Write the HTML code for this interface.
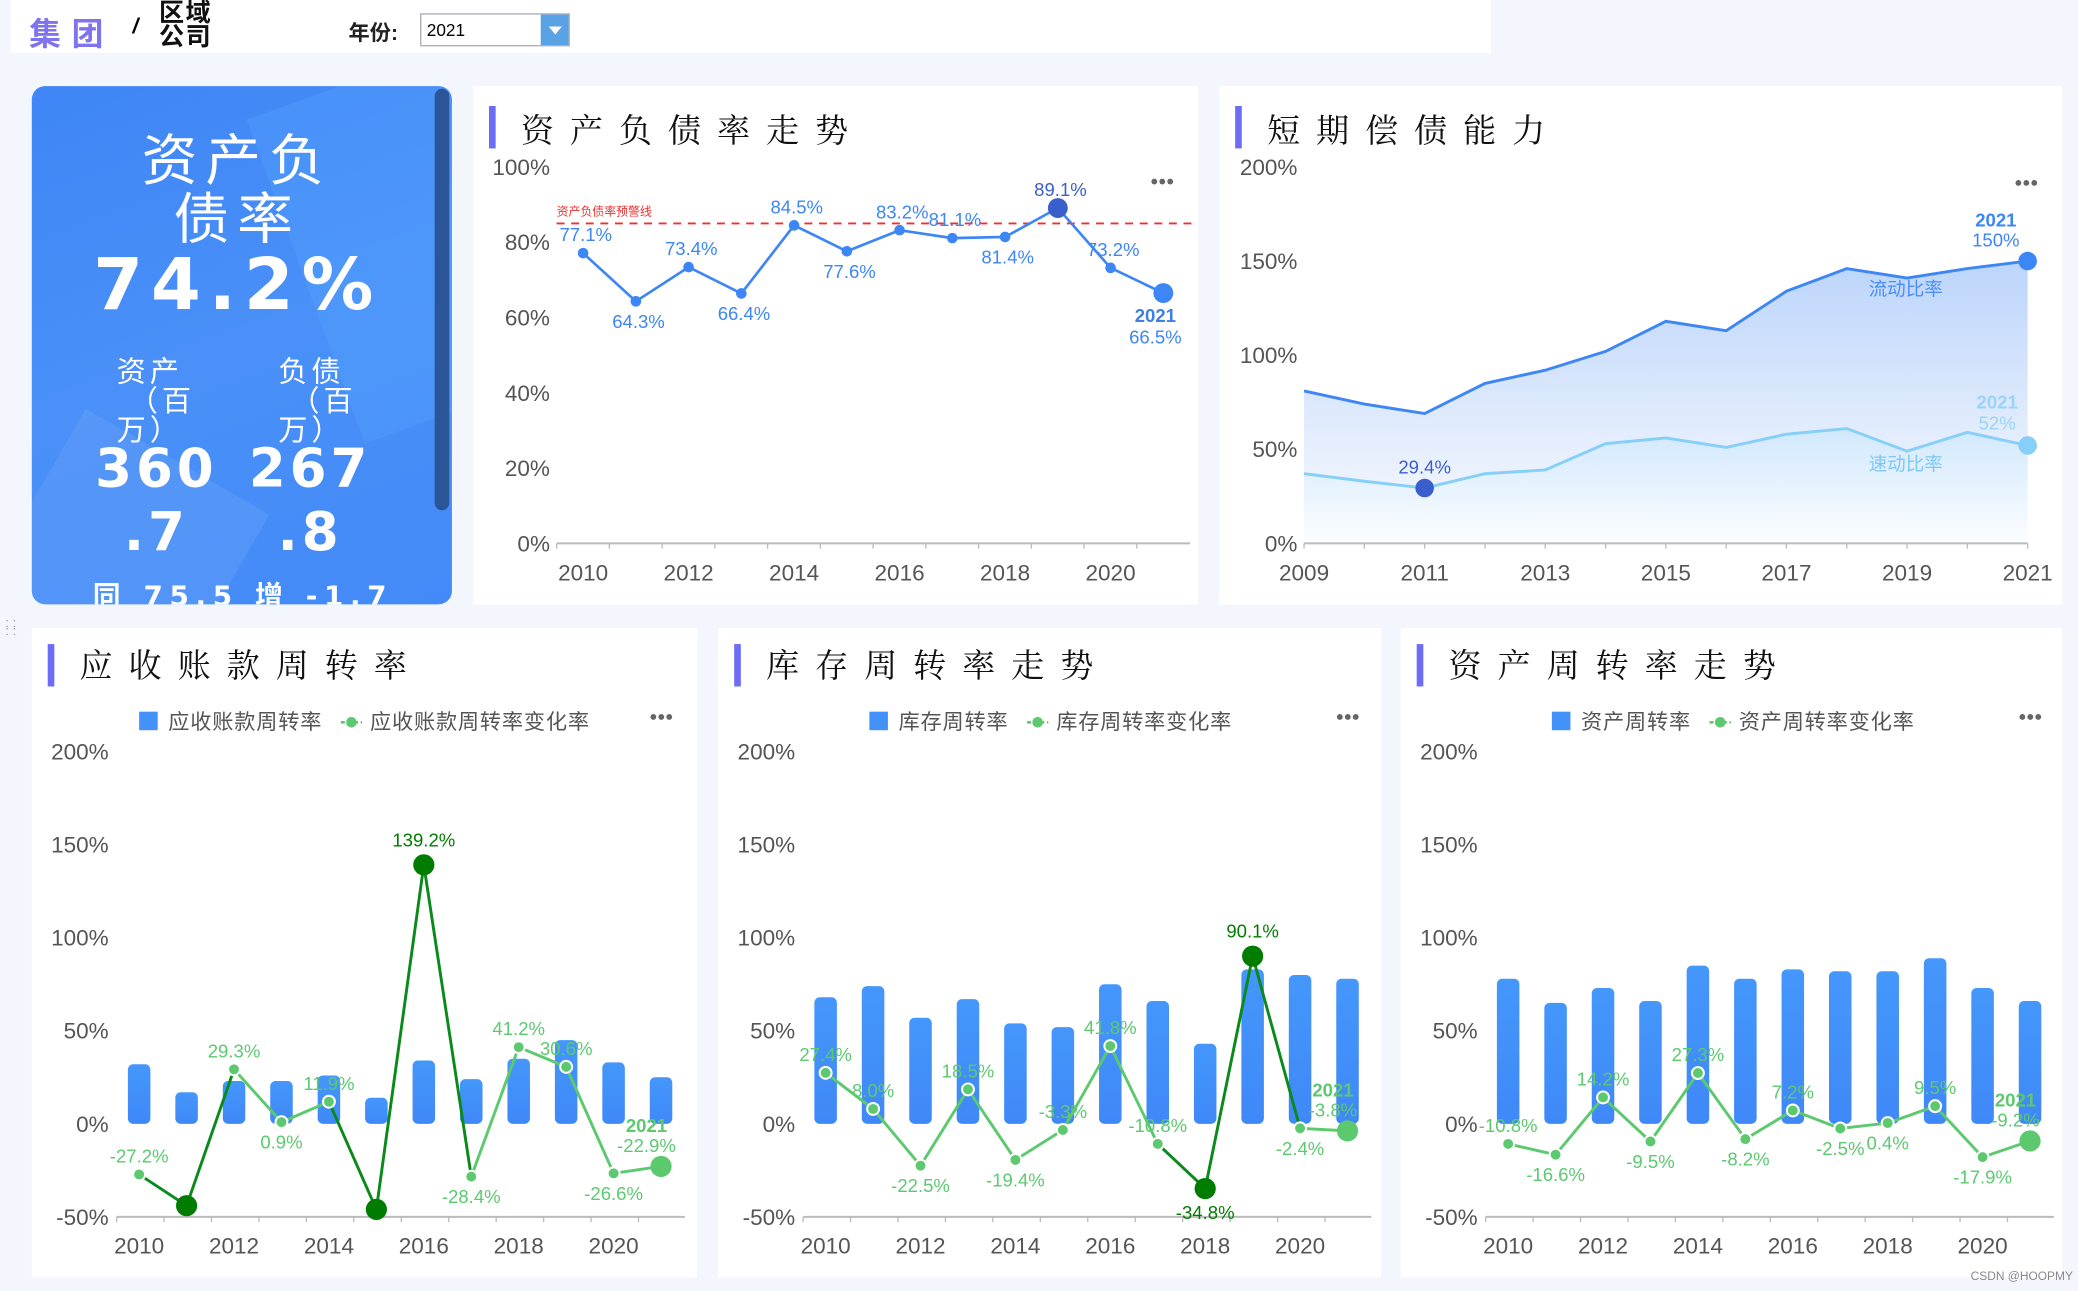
<!DOCTYPE html>
<html><head><meta charset="utf-8">
<style>
html,body{margin:0;padding:0;width:2078px;height:1291px;overflow:hidden;background:#f3f7fd;}
#wrap{position:absolute;left:0;top:0;width:1568px;height:974px;transform:scale(1.32526);transform-origin:0 0;font-family:"Liberation Sans","Noto Sans CJK SC",sans-serif;}
.abs{position:absolute;}
.panel{position:absolute;background:#fff;}
.title{position:absolute;font-family:"Liberation Serif","Noto Serif CJK SC",serif;font-size:25px;letter-spacing:12px;color:#111;white-space:nowrap;}
.tbar{position:absolute;width:5px;height:32px;background:#6c6cf6;}
svg text{font-family:"Liberation Sans","Noto Sans CJK SC",sans-serif;}
</style></head><body>
<div id="wrap">
 <div class="abs" style="left:8px;top:0;width:1117px;height:40px;background:#fff;"></div>
 <div class="abs" style="left:22px;top:6px;font-size:24px;font-weight:bold;color:#8073f0;letter-spacing:8px;">集团</div>
 <div class="abs" style="left:100px;top:12px;font-size:16px;font-weight:bold;font-style:italic;">/</div>
 <div class="abs" style="left:120px;top:2px;font-size:19px;font-weight:bold;line-height:18px;color:#111;letter-spacing:1px;">区域<br>公司</div>
 <div class="abs" style="left:263px;top:11px;font-size:16px;font-weight:bold;color:#222;">年份:</div>
 <div class="abs" style="left:317px;top:10px;width:111px;height:23px;border:1px solid #aab;background:#fff;font-size:13px;line-height:23px;">
  <span style="padding-left:4px;">2021</span>
  <div style="position:absolute;right:0;top:0;width:21px;height:23px;background:#5aa2e6;"><div style="position:absolute;left:6px;top:9px;border-left:5px solid transparent;border-right:5px solid transparent;border-top:6px solid #fff;"></div></div>
 </div>

 <div class="abs" style="left:24px;top:65px;width:317px;height:391px;border-radius:10px;background:linear-gradient(160deg,#3f86f6 0%,#4a90f8 50%,#438af8 100%);overflow:hidden;color:#fff;text-align:center;">
  <div style="position:absolute;left:200px;top:-20px;width:220px;height:260px;background:rgba(90,170,255,0.25);transform:rotate(-20deg);"></div>
  <div style="position:absolute;left:-20px;top:270px;width:160px;height:200px;background:rgba(255,255,255,0.07);transform:rotate(30deg);"></div>
  <div style="position:absolute;left:304px;top:2px;width:11px;height:318px;border-radius:6px;background:#2a5596;"></div>
  <div style="position:absolute;left:0;top:35px;width:310px;font-size:42px;line-height:44px;letter-spacing:6px;">资产负<br>债率</div>
  <div style="position:absolute;left:0;top:118px;width:310px;font-size:54px;font-weight:bold;letter-spacing:6px;font-family:'DejaVu Sans',sans-serif;">74.2%</div>
  <div style="position:absolute;left:64px;top:205px;width:90px;font-size:22px;line-height:22px;text-align:left;letter-spacing:3px;">资产<br>&nbsp;（百<br>万）</div>
  <div style="position:absolute;left:186px;top:205px;width:90px;font-size:22px;line-height:22px;text-align:left;letter-spacing:3px;">负债<br>&nbsp;（百<br>万）</div>
  <div style="position:absolute;left:34px;top:265px;width:120px;font-size:40px;font-weight:bold;line-height:48px;letter-spacing:3px;font-family:'DejaVu Sans',sans-serif;">360<br>.7</div>
  <div style="position:absolute;left:148px;top:265px;width:124px;font-size:40px;font-weight:bold;line-height:48px;letter-spacing:3px;font-family:'DejaVu Sans',sans-serif;">267<br>.8</div>
  <div style="position:absolute;left:46px;top:369px;width:270px;font-size:21px;font-weight:bold;text-align:left;white-space:nowrap;letter-spacing:5px;font-family:'DejaVu Sans','Noto Sans CJK SC',sans-serif;">同 75.5 增 -1.7</div>
 </div>

 <div class="panel" style="left:357px;top:65px;width:547px;height:391px;"></div>
 <div class="tbar" style="left:369px;top:80px;"></div>
 <div class="title" style="left:393px;top:79px;">资产负债率走势</div>

 <div class="panel" style="left:920px;top:65px;width:636px;height:391px;"></div>
 <div class="tbar" style="left:932px;top:80px;"></div>
 <div class="title" style="left:956px;top:79px;">短期偿债能力</div>

 <div class="panel" style="left:24px;top:474px;width:502px;height:490px;"></div>
 <div class="tbar" style="left:36px;top:486px;"></div>
 <div class="title" style="left:60px;top:483px;">应收账款周转率</div>

 <div class="panel" style="left:542px;top:474px;width:500px;height:490px;"></div>
 <div class="tbar" style="left:554px;top:486px;"></div>
 <div class="title" style="left:578px;top:483px;">库存周转率走势</div>

 <div class="panel" style="left:1057px;top:474px;width:499px;height:490px;"></div>
 <div class="tbar" style="left:1069px;top:486px;"></div>
 <div class="title" style="left:1093px;top:483px;">资产周转率走势</div>

 <div class="abs" style="left:1487px;top:958px;font-size:9px;color:#888;">CSDN @HOOPMY</div>
 <div class="abs" style="left:4px;top:468px;font-size:10px;color:#99a;line-height:6px;">: :<br>: :</div>

 <svg id="chart" width="1568" height="974" style="position:absolute;left:0;top:0;"></svg>
</div>
<script>
// ---- data ----
const debtYears = [2010,2011,2012,2013,2014,2015,2016,2017,2018,2019,2020,2021];
const debtValues = [77.1,64.3,73.4,66.4,84.5,77.6,83.2,81.1,81.4,89.1,73.2,66.5];
const debtLabelSide = [1,-1,1,-1,1,-1,1,1,-1,1,1,-1];
const debtTicks = [0,20,40,60,80,100];
const debtWarning = 85;

const solvYears = [2009,2010,2011,2012,2013,2014,2015,2016,2017,2018,2019,2020,2021];
const currentRatio = [81,74,69,85,92,102,118,113,134,146,141,146,150];
const quickRatio = [37,33,29.4,37,39,53,56,51,58,61,49,59,52];
const solvTicks = [0,50,100,150,200];

const turnYears = [2010,2011,2012,2013,2014,2015,2016,2017,2018,2019,2020,2021];
const turnTicks = [-50,0,50,100,150,200];
const recvBars = [32,17,23,23,26,14,34,24,35,45,33,25];
const recvRates = [-27.2,-44,29.3,0.9,11.9,-46,139.2,-28.4,41.2,30.6,-26.6,-22.9];
const recvSide = [1,0,1,-1,1,0,1,-1,1,1,-1,1];
const recvDark = [1,5,6];
const invBars = [68,74,57,67,54,52,75,66,43,83,80,78];
const invRates = [27.4,8.0,-22.5,18.5,-19.4,-3.3,41.8,-10.8,-34.8,90.1,-2.4,-3.8];
const invSide = [1,1,-1,1,-1,1,1,1,-1,1,-1,1];
const invDark = [8,9];
const astBars = [78,65,73,66,85,78,83,82,82,89,73,66];
const astRates = [-10.8,-16.6,14.2,-9.5,27.3,-8.2,7.2,-2.5,0.4,9.5,-17.9,-9.2];
const astSide = [1,-1,1,-1,1,-1,1,-1,-1,1,-1,1];
const astDark = [];

// ---- helpers ----
const svg = document.getElementById('chart');
const NS = 'http://www.w3.org/2000/svg';
function mk(tag, attrs, parent){
  const e = document.createElementNS(NS, tag);
  for (const k in attrs) e.setAttribute(k, attrs[k]);
  (parent||svg).appendChild(e);
  return e;
}
function txt(x,y,s,attrs,parent){
  const t = mk('text', Object.assign({x:x,y:y},attrs), parent);
  t.textContent = s;
  return t;
}
const defs = mk('defs',{});
defs.innerHTML = '<linearGradient id="areaG" x1="0" y1="0" x2="0" y2="1"><stop offset="0" stop-color="#bcd5fb"/><stop offset="0.7" stop-color="#e8f0fd"/><stop offset="1" stop-color="#f7faff"/></linearGradient>'+
 '<linearGradient id="areaQ" x1="0" y1="0" x2="0" y2="1"><stop offset="0" stop-color="#c9e6fd" stop-opacity="0.7"/><stop offset="1" stop-color="#ffffff" stop-opacity="0.6"/></linearGradient>'+
 '<linearGradient id="barG" x1="0" y1="0" x2="0" y2="1"><stop offset="0" stop-color="#4497fb"/><stop offset="1" stop-color="#3f88f8"/></linearGradient>';

function dots(x,y,name){
  const g = mk('g',{});
  
  
  for (let i=0;i<3;i++) mk('circle',{cx:x+i*6,cy:y,r:2.2,fill:'#666'},g);
}

// ---- chart 1: debt ratio ----
const x1 = i => 440 + i*39.8;
const y1 = v => 410 - v*2.84;
debtTicks.forEach(t=>{
  const l = txt(415, y1(t)+6, t+'%', {'text-anchor':'end','font-size':17,fill:'#555'});
  
  
});
mk('line',{x1:420,y1:410,x2:898,y2:410,stroke:'#bbb','stroke-width':1.5});
debtYears.forEach((yr,i)=>{
  mk('line',{x1:420+i*39.8,y1:410,x2:420+i*39.8,y2:414,stroke:'#bbb'});
  if (i%2===0){
    const l = txt(x1(i), 438, String(yr), {'text-anchor':'middle','font-size':17,fill:'#555'});
    
    
  }
});
const warn = mk('line',{x1:420,y1:y1(debtWarning),x2:900,y2:y1(debtWarning),stroke:'#f03030','stroke-width':1.5,'stroke-dasharray':'6,5'});


const wl = txt(420, y1(debtWarning)-6, '资产负债率预警线', {'font-size':9,fill:'#f03030'});


const dl = mk('polyline',{points:debtValues.map((v,i)=>x1(i)+','+y1(v)).join(' '),fill:'none',stroke:'#3d86f6','stroke-width':2});


const maxIdx = debtValues.indexOf(Math.max(...debtValues));
debtValues.forEach((v,i)=>{
  const last = i===debtValues.length-1;
  const big = last || i===maxIdx;
  const c = mk('circle',{cx:x1(i),cy:y1(v),r:big?7.5:4,fill:i===maxIdx?'#3a5fcd':'#3d86f6'});
  
  
  let ly;
  if (last){
    const a = txt(x1(i)-6, y1(v)+22, String(debtYears[i]), {'text-anchor':'middle','font-size':14,'font-weight':'bold',fill:'#3d7ee8'});
    
    
    ly = y1(v)+38;
    const b = txt(x1(i)-6, ly, v.toFixed(1)+'%', {'text-anchor':'middle','font-size':14,fill:'#3d86f6'});
    
    
    return;
  }
  ly = debtLabelSide[i]>0 ? y1(v)-9 : y1(v)+20;
  const b = txt(x1(i)+2, ly, v.toFixed(1)+'%', {'text-anchor':'middle','font-size':14,fill:i===maxIdx?'#3a5fcd':'#3d86f6'});
  
  
});
dots(871,137,'debt-more-button');

// ---- chart 2: solvency ----
const x2 = i => 984 + i*45.5;
const y2 = v => 410 - v*1.42;
solvTicks.forEach(t=>{
  const l = txt(979, y2(t)+6, t+'%', {'text-anchor':'end','font-size':17,fill:'#555'});
  
  
});
const n2 = currentRatio.length-1;
const ca = mk('path',{d:'M'+x2(0)+',410 '+currentRatio.map((v,i)=>'L'+x2(i)+','+y2(v)).join(' ')+' L'+x2(n2)+',410 Z',fill:'url(#areaG)'});


const qa = mk('path',{d:'M'+x2(0)+',410 '+quickRatio.map((v,i)=>'L'+x2(i)+','+y2(v)).join(' ')+' L'+x2(n2)+',410 Z',fill:'url(#areaQ)'});


mk('line',{x1:984,y1:410,x2:1530,y2:410,stroke:'#bbb','stroke-width':1.5});
solvYears.forEach((yr,i)=>{
  mk('line',{x1:x2(i),y1:410,x2:x2(i),y2:414,stroke:'#bbb'});
  if (i%2===0){
    const l = txt(x2(i), 438, String(yr), {'text-anchor':'middle','font-size':17,fill:'#555'});
    
    
  }
});
const cl = mk('polyline',{points:currentRatio.map((v,i)=>x2(i)+','+y2(v)).join(' '),fill:'none',stroke:'#3d86f6','stroke-width':2.2});


const ql = mk('polyline',{points:quickRatio.map((v,i)=>x2(i)+','+y2(v)).join(' '),fill:'none',stroke:'#85cff8','stroke-width':2.2});


const cEnd = mk('circle',{cx:x2(n2),cy:y2(currentRatio[n2]),r:7,fill:'#3d86f6'});


const qEnd = mk('circle',{cx:x2(n2),cy:y2(quickRatio[n2]),r:7,fill:'#85cff8'});


const qMin = quickRatio.indexOf(Math.min(...quickRatio));
const qm = mk('circle',{cx:x2(qMin),cy:y2(quickRatio[qMin]),r:7,fill:'#3a5fcd'});


let t;
t = txt(x2(qMin), y2(quickRatio[qMin])-11, quickRatio[qMin]+'%', {'text-anchor':'middle','font-size':14,fill:'#3a5fcd'});


t = txt(x2(n2)-24, y2(currentRatio[n2])-26, String(solvYears[n2]), {'text-anchor':'middle','font-size':14,'font-weight':'bold',fill:'#3d86f6'});


t = txt(x2(n2)-24, y2(currentRatio[n2])-11, currentRatio[n2]+'%', {'text-anchor':'middle','font-size':14,fill:'#3d86f6'});


t = txt(x2(n2)-23, y2(quickRatio[n2])-28, String(solvYears[n2]), {'text-anchor':'middle','font-size':14,'font-weight':'bold',fill:'#98d4fa'});


t = txt(x2(n2)-23, y2(quickRatio[n2])-12, quickRatio[n2]+'%', {'text-anchor':'middle','font-size':14,fill:'#98d4fa'});


t = txt(1438, 223, '流动比率', {'text-anchor':'middle','font-size':14,fill:'#4a8ef5'});


t = txt(1438, 355, '速动比率', {'text-anchor':'middle','font-size':14,fill:'#7cc8f6'});


dots(1523,138,'solvency-more-button');

// ---- bottom charts ----
const yB = v => 848 - v*1.404;
function turnover(x0, legX, bars, rates, side, dark, barName, rateName, key){
  const xB = i => x0 + i*35.8;
  const axL = x0-17, axR = x0 + 11*35.8 + 18;
  turnTicks.forEach(tk=>{
    const l = txt(x0-23, yB(tk)+6, tk+'%', {'text-anchor':'end','font-size':17,fill:'#555'});
    
    
  });
  mk('line',{x1:axL,y1:yB(-50),x2:axR,y2:yB(-50),stroke:'#bbb','stroke-width':1.5});
  turnYears.forEach((yr,i)=>{
    mk('line',{x1:axL+i*35.8,y1:yB(-50),x2:axL+i*35.8,y2:yB(-50)+4,stroke:'#bbb'});
    if (i%2===0){
      const l = txt(xB(i), 946, String(yr), {'text-anchor':'middle','font-size':17,fill:'#555'});
      
      
    }
  });
  bars.forEach((v,i)=>{
    const r = mk('rect',{x:xB(i)-8.5,y:yB(v),width:17,height:v*1.404,rx:4,fill:'url(#barG)'});
    
    
  });
  for (let i=0;i<rates.length-1;i++){
    const dk = dark.includes(i) || dark.includes(i+1);
    const s = mk('line',{x1:xB(i),y1:yB(rates[i]),x2:xB(i+1),y2:yB(rates[i+1]),stroke:dk?'#0a8a1a':'#5cc96f','stroke-width':2.2});
    
    
  }
  const last = rates.length-1;
  rates.forEach((v,i)=>{
    const dk = dark.includes(i);
    const isLast = i===last;
    const c = mk('circle',{cx:xB(i),cy:yB(v),r:dk?8:(isLast?8:4.5),fill:dk?'#007d00':'#5cc96f',stroke:(dk||isLast)?'none':'#fff','stroke-width':1.5});
    
    
    if (isLast){
      const a = txt(xB(i)-11, yB(v)-26, String(turnYears[i]), {'text-anchor':'middle','font-size':14,'font-weight':'bold',fill:'#5cc96f'});
      
      
      const b = txt(xB(i)-11, yB(v)-11, v.toFixed(1)+'%', {'text-anchor':'middle','font-size':14,fill:'#5cc96f'});
      
      
      return;
    }
    if (side[i]===0) return;
    const ly = side[i]>0 ? yB(v)-(dk?14:9) : yB(v)+(dk?23:20);
    const b = txt(xB(i), ly, v.toFixed(1)+'%', {'text-anchor':'middle','font-size':14,fill:dk?'#007d00':'#5cc96f'});
    
    
  });
  // legend
  const lg = mk('g',{});
  
  
  const lx = legX;
  mk('rect',{x:lx,y:537,width:14,height:14,fill:'#4392fa'},lg);
  txt(lx+22, 550, barName, {'font-size':16,fill:'#555','letter-spacing':'0.6'}, lg);
  const lx2 = lx + 22 + barName.length*16.6 + 14;
  mk('line',{x1:lx2,y1:545,x2:lx2+16,y2:545,stroke:'#5cc96f','stroke-width':2,'stroke-dasharray':'3,2'},lg);
  mk('circle',{cx:lx2+8,cy:545,r:4,fill:'#5cc96f'},lg);
  txt(lx2+22, 550, rateName, {'font-size':16,fill:'#555','letter-spacing':'0.6'}, lg);
  dots(x0+388, 541, key+'-more-button');
}
turnover(105, 105, recvBars, recvRates, recvSide, recvDark, '应收账款周转率', '应收账款周转率变化率', 'receivable');
turnover(623, 656, invBars, invRates, invSide, invDark, '库存周转率', '库存周转率变化率', 'inventory');
turnover(1138, 1171, astBars, astRates, astSide, astDark, '资产周转率', '资产周转率变化率', 'asset-turnover');
</script>
</body></html>
